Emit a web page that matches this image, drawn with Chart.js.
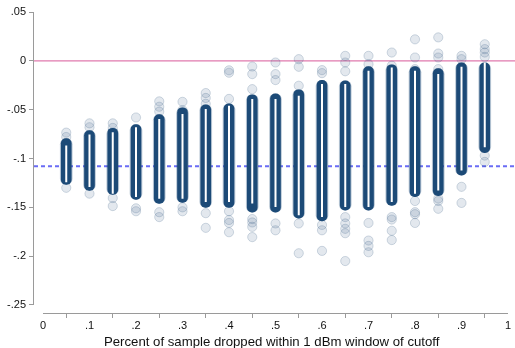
<!DOCTYPE html>
<html>
<head>
<meta charset="utf-8">
<script src="https://cdn.jsdelivr.net/npm/chart.js@4/dist/chart.umd.min.js"></script>
<style>
html,body{margin:0;padding:0;background:#fff;}
#c{display:block;}
</style>
</head>
<body>
<canvas id="c" width="515" height="348"></canvas>
<script>
// ---- data ----
const xCats = [0.05,0.10,0.15,0.20,0.25,0.30,0.35,0.40,0.45,0.50,0.55,0.60,0.65,0.70,0.75,0.80,0.85,0.90,0.95];
// extent of the dense dark core of each column
const coreHigh = [-0.0796,-0.0714,-0.069,-0.0653,-0.0551,-0.048,-0.045,-0.044,-0.0347,-0.0337,-0.0296,-0.020,-0.0204,-0.006,-0.004,-0.006,-0.008,-0.002,-0.002];
const coreLow  = [-0.1265,-0.1327,-0.1367,-0.1418,-0.146,-0.145,-0.150,-0.150,-0.155,-0.155,-0.161,-0.164,-0.153,-0.153,-0.148,-0.139,-0.138,-0.117,-0.094];
// extent of the white centre line inside each core
const innerHigh = [-0.0867,-0.0755,-0.0732,-0.068,-0.0595,-0.0544,-0.0493,-0.0459,-0.0391,-0.0391,-0.0357,-0.0238,-0.0238,-0.0102,-0.0068,-0.0102,-0.0136,-0.0061,-0.0017];
const innerLow  = [-0.1242,-0.1293,-0.136,-0.1395,-0.1411,-0.1411,-0.1446,-0.1446,-0.1462,-0.1497,-0.1582,-0.160,-0.1497,-0.1497,-0.1446,-0.136,-0.1327,-0.1122,-0.0885];
const outliers = [
  [-0.0735,-0.078,-0.130],
  [-0.064,-0.068,-0.136],
  [-0.064,-0.0687,-0.1405,-0.1487],
  [-0.058,-0.151,-0.154],
  [-0.0415,-0.047,-0.052,-0.155,-0.160],
  [-0.042,-0.0505,-0.150,-0.154],
  [-0.033,-0.038,-0.044,-0.156,-0.171],
  [-0.0097,-0.0122,-0.039,-0.154,-0.163,-0.166,-0.1755],
  [-0.0058,-0.0136,-0.029,-0.162,-0.1655,-0.170,-0.1805],
  [-0.0017,-0.0136,-0.0197,-0.1665,-0.1735],
  [0.0017,-0.0061,-0.0255,-0.1665,-0.197],
  [-0.0095,-0.0126,-0.168,-0.1735,-0.1946],
  [0.0051,-0.0017,-0.0107,-0.160,-0.1665,-0.172,-0.1765,-0.205],
  [0.0051,-0.0034,-0.166,-0.184,-0.1895,-0.196],
  [0.0085,-0.005,-0.160,-0.1625,-0.174,-0.1835],
  [0.022,0.0034,-0.0085,-0.1435,-0.155,-0.157,-0.166],
  [0.024,0.0075,0.0034,-0.0085,-0.141,-0.1435,-0.1515],
  [0.0051,0.0017,-0.129,-0.1455],
  [0.017,0.012,0.0085,0.004,-0.097,-0.1035]
];
const zeroLine = 0;
const meanLine = -0.108;
const xTicks = [0,0.1,0.2,0.3,0.4,0.5,0.6,0.7,0.8,0.9,1];
const yTicks = [0.05,0,-0.05,-0.1,-0.15,-0.2,-0.25];
const xTitle = 'Percent of sample dropped within 1 dBm window of cutoff';
const xMin = -0.01935, xMax = 1.003, yMin = -0.2582, yMax = 0.05;
const lineEnd = 1.016;

// ---- build datasets ----
const coreData = xCats.map((x,i)=>({x:x, y:[coreLow[i], coreHigh[i]]}));
const innerData = xCats.map((x,i)=>({x:x, y:[innerLow[i], innerHigh[i]]}));
const outData = [];
xCats.forEach((x,i)=>outliers[i].forEach(v=>outData.push({x:x,y:v})));

function fmt(v){
  if (Math.abs(v) < 1e-9) return '0';
  let s = String(+v.toFixed(2));
  return s.replace(/^(-?)0\./,'$1.');
}

const axisLines = {
  id:'axisLines',
  beforeDatasetsDraw(chart){
    const ctx = chart.ctx, xs = chart.scales.x, ys = chart.scales.y;
    ctx.save();
    ctx.strokeStyle = '#9a9a9a';
    ctx.lineWidth = 1;
    const left = Math.round(chart.chartArea.left) - 0.5;
    const bottom = Math.round(chart.chartArea.bottom) + 0.5;
    ctx.beginPath();
    ctx.moveTo(left, ys.getPixelForValue(yTicks[0]));
    ctx.lineTo(left, ys.getPixelForValue(yTicks[yTicks.length-1]));
    ctx.moveTo(xs.getPixelForValue(xTicks[0]), bottom);
    ctx.lineTo(xs.getPixelForValue(xTicks[xTicks.length-1]), bottom);
    ctx.stroke();
    ctx.restore();
  }
};

const tickFont = {family:'"Liberation Sans", Arial, sans-serif', size:11};
const coreColor = '#1c4a77';

new Chart(document.getElementById('c'), {
  type:'bar',
  data:{
    datasets:[
      {
        type:'bar', data: innerData,
        backgroundColor:'#ffffff', borderWidth:0, inflateAmount:0,
        barThickness:2, grouped:false, order:1
      },
      {
        type:'bar', data: coreData,
        backgroundColor:coreColor, borderWidth:0,
        borderRadius:5, borderSkipped:false,
        barThickness:10, grouped:false, order:2
      },
      {
        type:'bar', data: coreData,
        backgroundColor:'rgba(28,74,119,0.30)', borderWidth:0,
        borderRadius:6, borderSkipped:false,
        barThickness:12, grouped:false, order:3
      },
      {
        type:'scatter', data: outData,
        pointRadius:4.6,
        pointBackgroundColor:'rgba(40,80,120,0.13)',
        pointBorderColor:'rgba(40,80,120,0.20)',
        pointBorderWidth:1, order:4
      },
      {
        type:'line', data:[{x:xMin,y:zeroLine},{x:lineEnd,y:zeroLine}],
        borderColor:'#e07aae', borderWidth:1.2, pointRadius:0, clip:false, order:5
      },
      {
        type:'line', data:[{x:xMin,y:meanLine},{x:lineEnd,y:meanLine}],
        borderColor:'#6a6cf5', borderWidth:2, borderDash:[4,3], pointRadius:0, clip:false, order:6
      }
    ]
  },
  options:{
    responsive:false,
    devicePixelRatio:1,
    animation:false,
    layout:{padding:{top:12,right:0,left:0,bottom:0}},
    plugins:{legend:{display:false}, tooltip:{enabled:false}},
    scales:{
      x:{
        type:'linear', min:xMin, max:xMax, offset:false,
        afterBuildTicks(s){ s.ticks = xTicks.map(v=>({value:v})); },
        afterFit(s){ s.height = 35; s.paddingLeft = 0; s.paddingRight = 0; },
        ticks:{ callback:(v)=>fmt(v), color:'#111', font:tickFont, padding:1, maxRotation:0, autoSkip:false },
        grid:{ drawOnChartArea:false, drawTicks:true, tickLength:5, color:'#9a9a9a' },
        border:{display:false},
        title:{ display:true, text:xTitle, color:'#111', font:{family:'"Liberation Sans", Arial, sans-serif', size:13.2, lineHeight:0.9}, padding:{top:6,bottom:0} }
      },
      y:{
        type:'linear', min:yMin, max:yMax,
        afterBuildTicks(s){ s.ticks = yTicks.map(v=>({value:v})); },
        afterFit(s){ s.width = 34; s.paddingTop = 0; s.paddingBottom = 0; },
        ticks:{ callback:(v)=>fmt(v), color:'#111', font:tickFont, padding:3, autoSkip:false },
        grid:{ drawOnChartArea:false, drawTicks:true, tickLength:5, color:'#9a9a9a' },
        border:{display:false}
      }
    }
  },
  plugins:[axisLines]
});
</script>
</body>
</html>
